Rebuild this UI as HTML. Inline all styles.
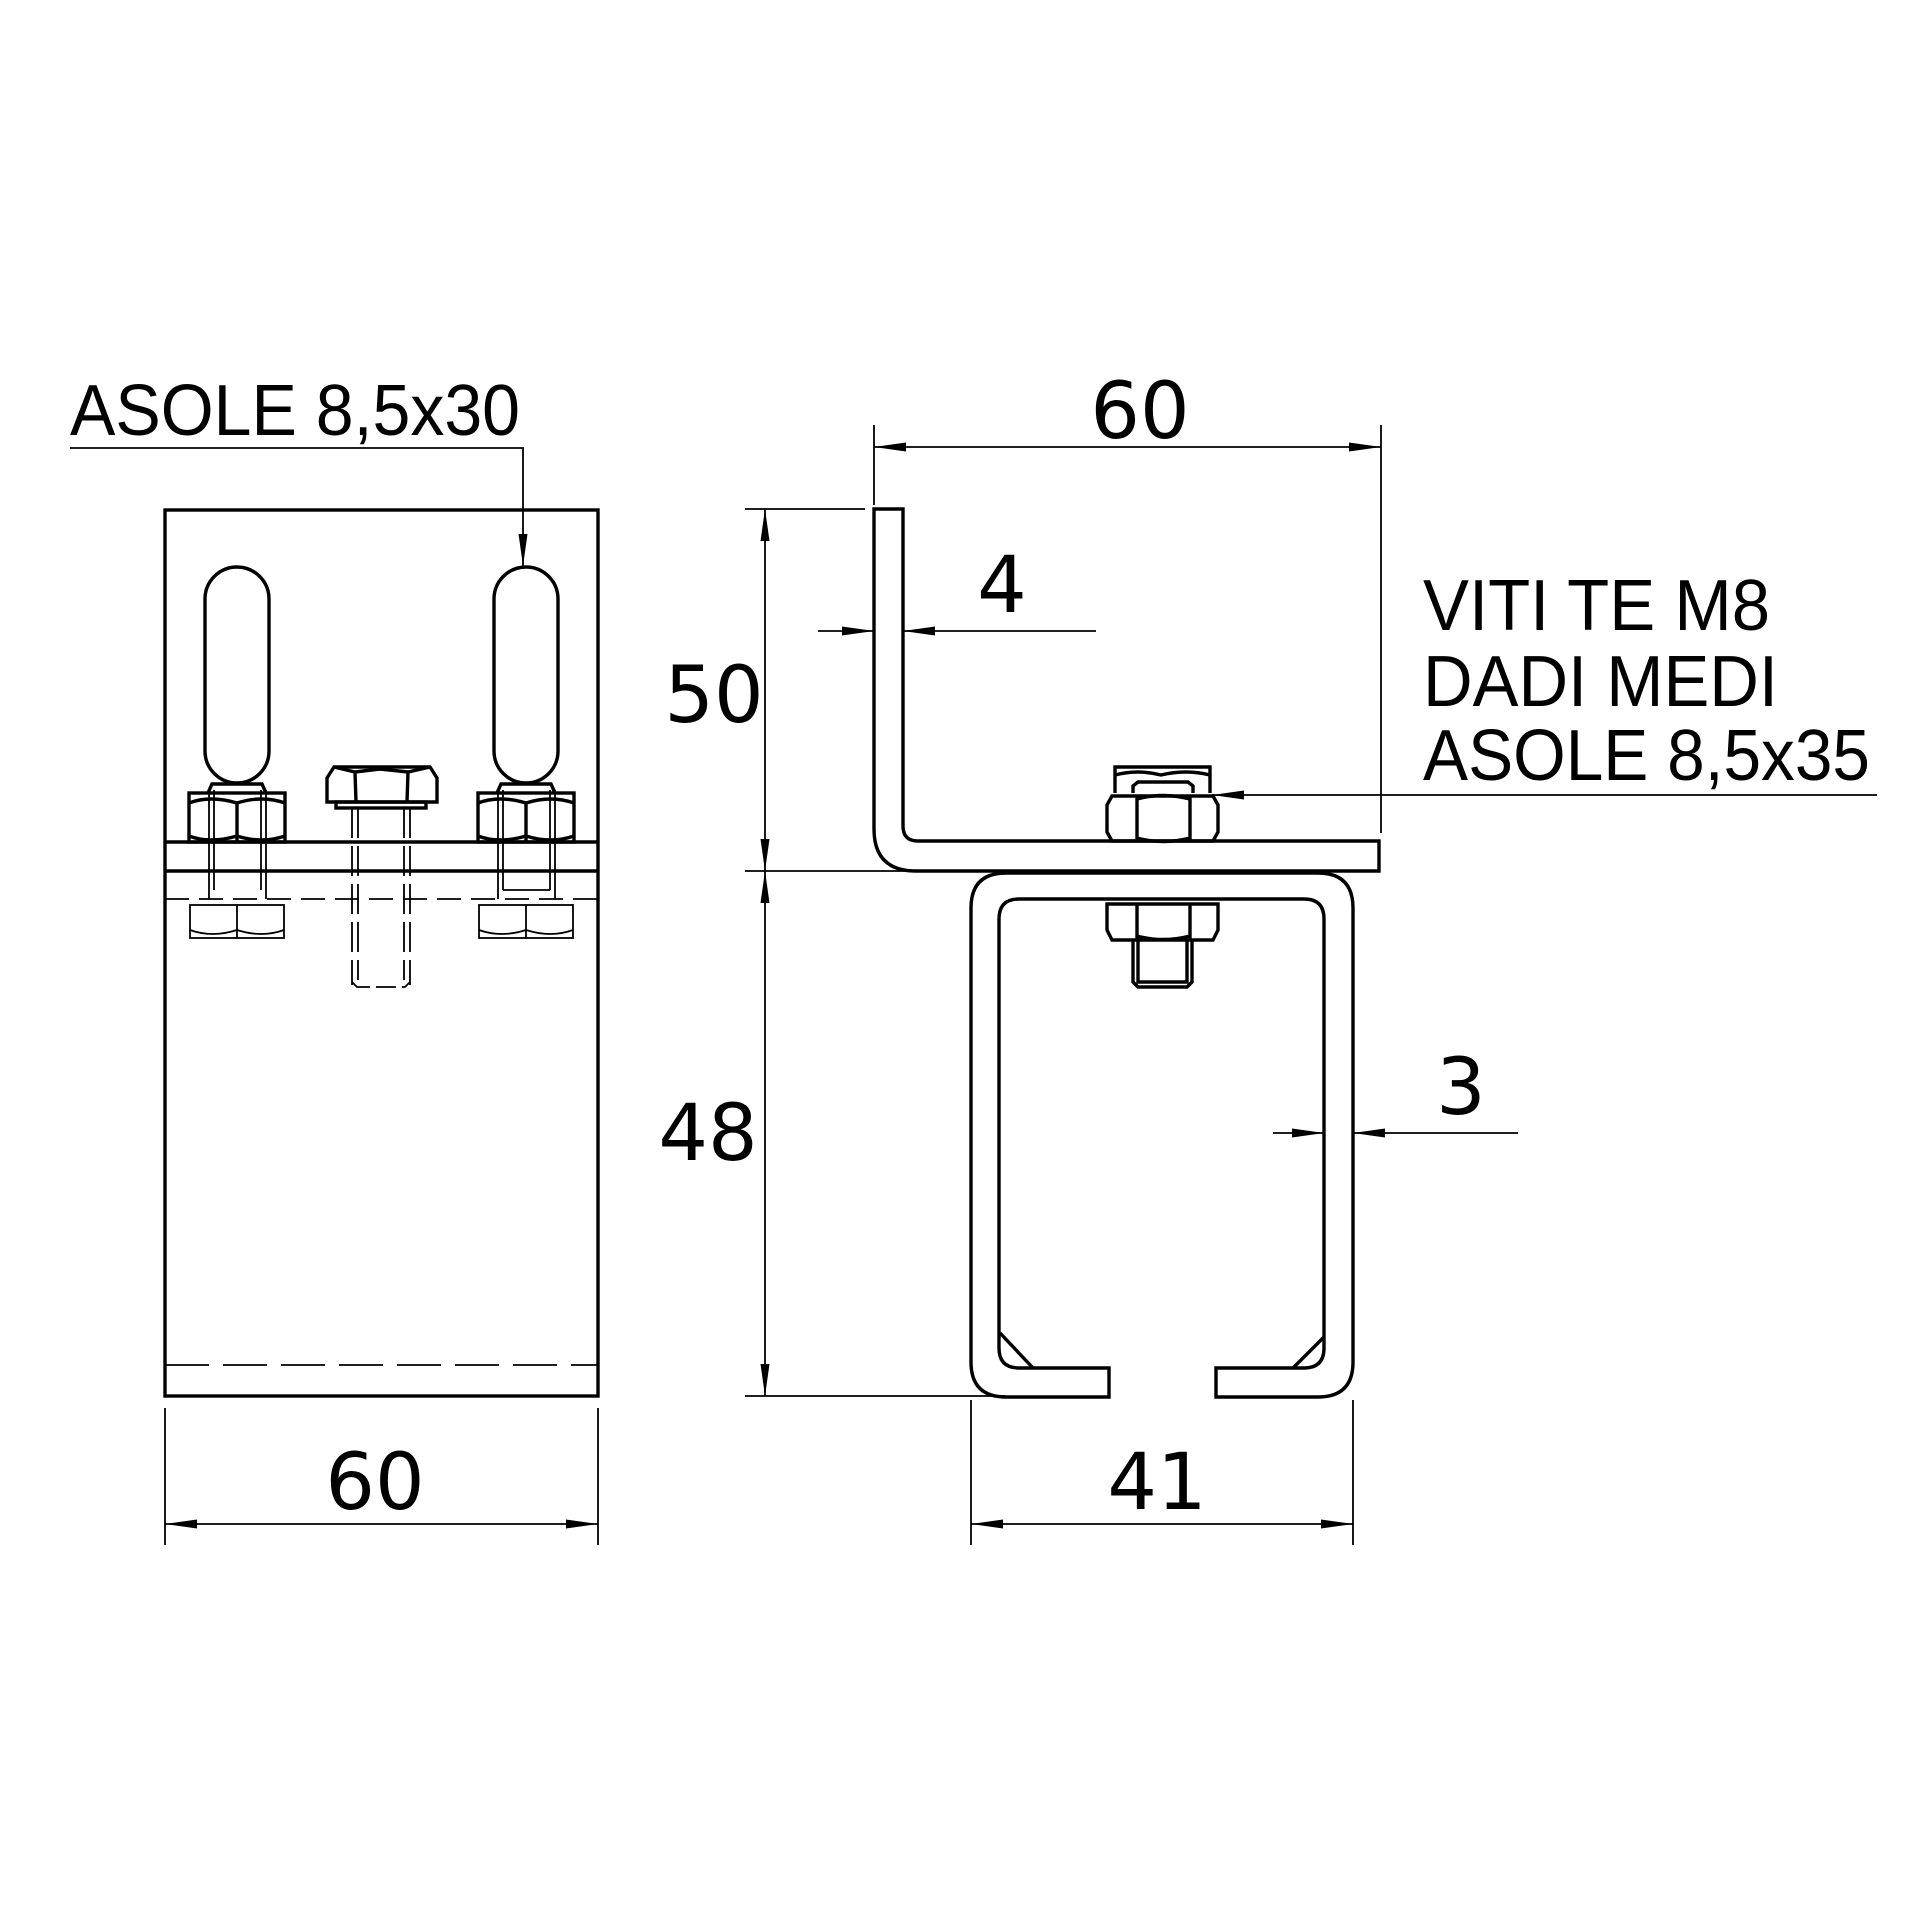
<!DOCTYPE html>
<html><head><meta charset="utf-8"><style>html,body{margin:0;padding:0;background:#fff}svg{display:block}</style></head>
<body>
<svg width="1920" height="1920" viewBox="0 0 1920 1920" xmlns="http://www.w3.org/2000/svg">
<defs>
<marker id="a" viewBox="0 0 32 10" refX="32" refY="5" markerWidth="32" markerHeight="10" markerUnits="userSpaceOnUse" orient="auto-start-reverse"><path d="M0,0.5 L32,5 L0,9.5 Z" fill="#000"/></marker>
</defs>
<g fill="none" stroke="#000" stroke-width="1.8">
<polyline points="70,448 523,448 523,566" marker-end="url(#a)"/>
<line x1="165" y1="1408" x2="165" y2="1545"/>
<line x1="598" y1="1408" x2="598" y2="1545"/>
<line x1="165" y1="1524" x2="598" y2="1524" marker-start="url(#a)" marker-end="url(#a)"/>
<line x1="874" y1="425" x2="874" y2="505"/>
<line x1="1381" y1="425" x2="1381" y2="833"/>
<line x1="874" y1="447" x2="1381" y2="447" marker-start="url(#a)" marker-end="url(#a)"/>
<line x1="745" y1="509" x2="865" y2="509"/>
<line x1="745" y1="871" x2="915" y2="871"/>
<line x1="745" y1="1396" x2="1005" y2="1396"/>
<line x1="765" y1="509" x2="765" y2="871" marker-start="url(#a)" marker-end="url(#a)"/>
<line x1="765" y1="871" x2="765" y2="1396" marker-start="url(#a)" marker-end="url(#a)"/>
<line x1="818" y1="631" x2="874" y2="631" marker-end="url(#a)"/>
<line x1="1096" y1="631" x2="903" y2="631" marker-end="url(#a)"/>
<line x1="1273" y1="1133" x2="1324" y2="1133" marker-end="url(#a)"/>
<line x1="1518" y1="1133" x2="1353" y2="1133" marker-end="url(#a)"/>
<line x1="971" y1="1400" x2="971" y2="1545"/>
<line x1="1353" y1="1400" x2="1353" y2="1545"/>
<line x1="971" y1="1524" x2="1353" y2="1524" marker-start="url(#a)" marker-end="url(#a)"/>
<line x1="1877" y1="795" x2="1212" y2="795" marker-end="url(#a)"/>
</g>

<g fill="none" stroke="#000" stroke-width="3.4">
<rect x="165" y="510" width="433" height="886"/>
<line x1="165" y1="842" x2="598" y2="842"/>
<line x1="165" y1="871" x2="598" y2="871"/>
<rect x="205" y="567" width="64" height="216" rx="32"/>
<rect x="494" y="567" width="64" height="216" rx="32"/>
<rect x="189" y="793" width="96" height="49"/>
<path d="M189,803 Q210,795 237,803 Q262,795 285,803 M237,803 L237,842 M189,836 Q210,844 237,836 Q262,844 285,836"/>
<path d="M208,793 L212,784 L262,784 L266,793"/>
<rect x="478" y="793" width="96" height="49"/>
<path d="M478,803 Q499,795 526,803 Q551,795 574,803 M526,803 L526,842 M478,836 Q499,844 526,836 Q551,844 574,836"/>
<path d="M497,793 L501,784 L551,784 L555,793"/>
<path d="M327,778 L334,767 L430,767 L437,778 L437,802 L327,802 Z"/>
<path d="M355,772 L356,802 M408,772 L407,802 M334,767 L355,772 L380,769 L408,772 L430,767"/>
<rect x="336" y="802" width="90" height="6"/>
</g>
<g fill="none" stroke="#000" stroke-width="1.8">
<line x1="352" y1="808" x2="352" y2="985" stroke-dasharray="30,8"/>
<line x1="358" y1="808" x2="358" y2="980" stroke-dasharray="30,8"/>
<line x1="410" y1="808" x2="410" y2="985" stroke-dasharray="30,8"/>
<line x1="404" y1="808" x2="404" y2="980" stroke-dasharray="30,8"/>
<path d="M352,982 L357,987 L405,987 L410,982" stroke-dasharray="20,6"/>
<line x1="165" y1="899" x2="598" y2="899" stroke-dasharray="24,10"/>
<line x1="165" y1="1365" x2="598" y2="1365" stroke-dasharray="44,14"/>
<line x1="209" y1="790" x2="209" y2="899"/><line x1="214" y1="790" x2="214" y2="890"/>
<line x1="266" y1="790" x2="266" y2="899"/><line x1="261" y1="790" x2="261" y2="890"/>
<line x1="498" y1="790" x2="498" y2="899"/><line x1="503" y1="790" x2="503" y2="890"/>
<line x1="555" y1="790" x2="555" y2="899"/><line x1="550" y1="790" x2="550" y2="890"/>
<line x1="503" y1="890" x2="550" y2="890"/>
<rect x="190" y="905" width="94" height="33"/>
<path d="M237,905 L237,938 M190,930 Q212,938 237,930 Q262,938 284,930"/>
<rect x="479" y="905" width="94" height="33"/>
<path d="M526,905 L526,938 M479,930 Q501,938 526,930 Q551,938 573,930"/>
</g>

<g fill="none" stroke="#000" stroke-width="3.4">
<path d="M874,509 L903,509 L903,826 Q903,841 918,841 L1379,841 L1379,871 L916,871 Q874,871 874,829 Z"/>
<path d="M1006,873 L1318,873 Q1353,873 1353,908 L1353,1362 Q1353,1397 1318,1397 L1216,1397 L1216,1368 L1304,1368 Q1324,1368 1324,1348 L1324,919 Q1324,899 1304,899 L1019,899 Q999,899 999,919 L999,1348 Q999,1368 1019,1368 L1109,1368 L1109,1397 L1006,1397 Q971,1397 971,1362 L971,908 Q971,873 1006,873 Z"/>
<line x1="1000" y1="1333" x2="1033" y2="1368"/>
<line x1="1324" y1="1337" x2="1293" y2="1368"/>
<path d="M1107,805 L1112,796 L1213,796 L1218,805 L1218,832 L1213,841 L1112,841 L1107,832 Z"/>
<path d="M1137,796 L1137,841 M1190,796 L1190,841 M1137,799 Q1163,792 1190,799 M1137,838 Q1163,845 1190,838"/>
<path d="M1115,793 L1115,767 L1210,767 L1210,793"/>
<path d="M1133,793 L1133,786 L1138,782 L1188,782 L1193,786 L1193,793"/>
<path d="M1115,775 Q1138,769 1161,775 Q1186,769 1210,775"/>
<path d="M1107,904 L1218,904 L1218,930 L1213,940 L1112,940 L1107,930 Z"/>
<path d="M1137,904 L1137,940 M1190,904 L1190,940 M1137,936 Q1163,943 1190,936"/>
<path d="M1133,940 L1133,982 L1138,987 L1187,987 L1192,982 L1192,940 M1138,940 L1138,982 L1187,982 L1187,940"/>
</g>

<g font-family="'Liberation Sans', Arial, sans-serif" font-size="72" fill="#000">
<text x="70" y="435" textLength="450" lengthAdjust="spacingAndGlyphs">ASOLE 8,5x30</text>
<text x="1423" y="630" textLength="347" lengthAdjust="spacingAndGlyphs">VITI TE M8</text>
<text x="1423" y="706" textLength="355" lengthAdjust="spacingAndGlyphs">DADI MEDI</text>
<text x="1423" y="780" textLength="447" lengthAdjust="spacingAndGlyphs">ASOLE 8,5x35</text>
</g>
<g font-family="'DejaVu Sans', sans-serif" font-size="78" fill="#000" text-anchor="middle">
<text x="375" y="1509">60</text>
<text x="1140" y="438">60</text>
<text x="1002" y="612">4</text>
<text x="714" y="722">50</text>
<text x="708" y="1160">48</text>
<text x="1461" y="1114">3</text>
<text x="1157" y="1509">41</text>
</g>
</svg>
</body></html>
